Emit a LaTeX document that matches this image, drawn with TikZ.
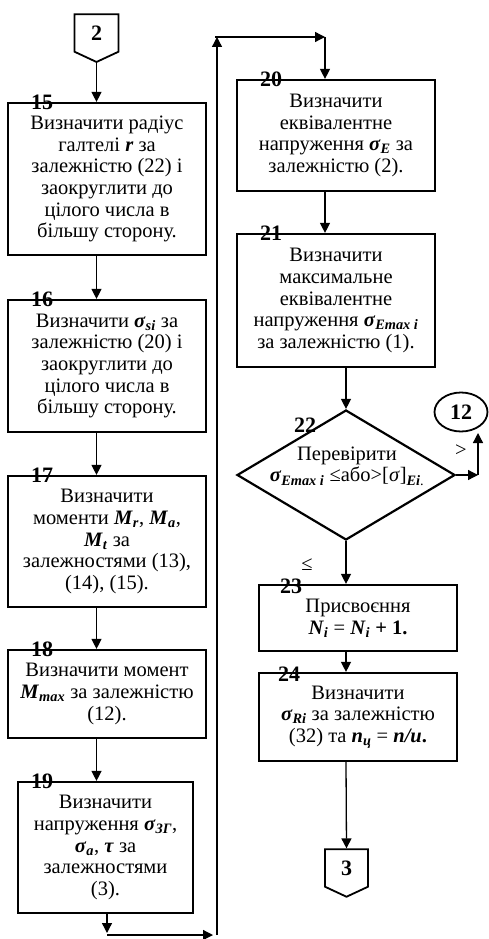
\documentclass[tikz,border=0pt]{standalone}
\usepackage{fontspec}
\setmainfont{Liberation Serif}
\usetikzlibrary{positioning, shapes.geometric, shapes.symbols, arrows.meta}
\newcommand{\vbi}[1]{\textbf{\textit{#1}}}

\begin{document}
\begin{tikzpicture}[x=1pt, y=-1pt,
				>={Triangle[length=10pt, width=10pt]},
				line/.style={line width=1.3pt},
				box/.style={draw, line width=2.2pt, minimum width=198pt, align=center, inner sep=2pt, font=\fontsize{20.5}{21.7}\selectfont},
				txt/.style={align=center, inner sep=0pt, font=\fontsize{20.5}{21.7}\selectfont},
				num/.style={inner sep=0pt, font=\fontsize{22}{22}\selectfont\bfseries},
				conn/.style={draw, line width=1.8pt, signal, signal to=south, signal pointer angle=130, inner sep=0pt, minimum width=44pt, minimum height=40pt, font=\fontsize{22}{22}\selectfont\bfseries}]
				\useasboundingbox (0,0) rectangle (489,939);
				\node[conn] (c2) at (96.5,33) {2};
				\node[box, minimum height=152pt] (b15) at (107,179) {Визначити радіус\\галтелі \vbi{r} за\\залежністю (22) і\\заокруглити до\\цілого числа в\\більшу сторону.};
				\node[box, minimum height=132pt] (b16) at (107,366) {Визначити \vbi{σ}\textsubscript{\vbi{si}} за\\залежністю (20) і\\заокруглити до\\цілого числа в\\більшу сторону.};
				\node[box, minimum height=131pt] (b17) at (107,541.5) {Визначити\\моменти \vbi{M}\textsubscript{\vbi{r}}, \vbi{M}\textsubscript{\vbi{a}},\\\vbi{M}\textsubscript{\vbi{t}} за\\залежностями (13),\\(14), (15).};
				\node[box, minimum height=88pt] (b18) at (107,694) {Визначити момент\\\vbi{M}\textsubscript{\vbi{max}} за залежністю\\(12).};
				\node[box, minimum width=175pt, minimum height=131pt] (b19) at (105.5,847.5) {Визначити\\напруження \vbi{σ}\textsubscript{\vbi{ЗГ}},\\\vbi{σ}\textsubscript{\vbi{a}}, \vbi{τ} за\\залежностями\\(3).};
				\node[box, minimum height=111pt] (b20) at (336,135.5) {Визначити\\еквівалентне\\напруження \vbi{σ}\textsubscript{\vbi{E}} за\\залежністю (2).};
				\node[box, minimum height=133pt] (b21) at (336,300.5) {Визначити\\максимальне\\еквівалентне\\напруження \vbi{σ}\textsubscript{\vbi{Emax i}}\\за залежністю (1).};
				\node[draw, line width=2.2pt, diamond, minimum width=218pt, minimum height=130pt, inner sep=0pt] (d22) at (346,475) {};
				\node[txt] (t22) at (347,466) {Перевірити\\\vbi{σ}\textsubscript{\vbi{Emax i}} ≤або>[\textit{σ}]\textsubscript{\vbi{Ei}.}};
				\node[box, minimum height=66pt] (b23) at (358,618) {Присвоєння\\\vbi{N}\textsubscript{\vbi{i}} = \vbi{N}\textsubscript{\vbi{i}} \textbf{+ 1.}};
				\node[box, minimum height=88pt] (b24) at (358,717) {Визначити\\\vbi{σ}\textsubscript{\vbi{Ri}} за залежністю\\(32) та \vbi{n}\textsubscript{\vbi{ц}} = \vbi{n/u}\textbf{.}};
				\node[conn, minimum width=43pt] (c3) at (346.5,868) {3};
				\node[draw, line width=1.8pt, ellipse, minimum width=53pt, minimum height=39pt, inner sep=0pt, font=\fontsize{22}{22}\selectfont\bfseries] (c12) at (461,412) {12};
				\node[num] (n15) at (42,102) {15};
				\node[num] (n16) at (42,299) {16};
				\node[num] (n17) at (42,475) {17};
				\node[num] (n18) at (42,649) {18};
				\node[num] (n19) at (42,781) {19};
				\node[num] (n20) at (271,79) {20};
				\node[num] (n21) at (271,233) {21};
				\node[num] (n22) at (305,425) {22};
				\node[num] (n23) at (291,586) {23};
				\node[num] (n24) at (289,674) {24};
				\node[txt] (gt) at (461,451) {>};
				\node[txt] (le) at (307,565) {≤};
				\coordinate (k1) at (107,935);
				\coordinate (k2) at (217,935);
				\coordinate (k3) at (217,37);
				\coordinate (k4) at (325,37);
				\coordinate (k5) at (478,475);
				\coordinate (k6) at (478,433);
				\draw[line, ->] (c2.south) -- (c2.south |- b15.north);
				\draw[line, ->] (b15.south -| c2) -- (b16.north -| c2);
				\draw[line, ->] (b16.south -| c2) -- (b17.north -| c2);
				\draw[line, ->] (b17.south -| c2) -- (b18.north -| c2);
				\draw[line, ->] (b18.south -| c2) -- (b19.north -| c2);
				\draw[line, ->] (b19.south -| k1) -- ([yshift=2pt]k1);
				\draw[line, ->] (k1) -- ([xshift=-4pt]k2);
				\draw[line, ->] (k2) -- (k3);
				\draw[line, ->] ([xshift=-2pt]k3) -- (k4);
				\draw[line, ->] (k4) -- (b20.north -| k4);
				\draw[line, ->] (b20.south -| k4) -- (b21.north -| k4);
				\draw[line, ->] (b21.south -| d22) -- (d22.north);
				\draw[line, ->] (d22.south) -- (d22.south |- b23.north);
				\draw[line, ->] (b23.south -| d22) -- (b24.north -| d22);
				\draw[line, ->] (b24.south -| d22) -- (c3.north);
				\draw[line, ->] (d22.east) -- (k5);
				\draw[line, ->] (k5) -- (k6);
			\end{tikzpicture}
\end{document}
